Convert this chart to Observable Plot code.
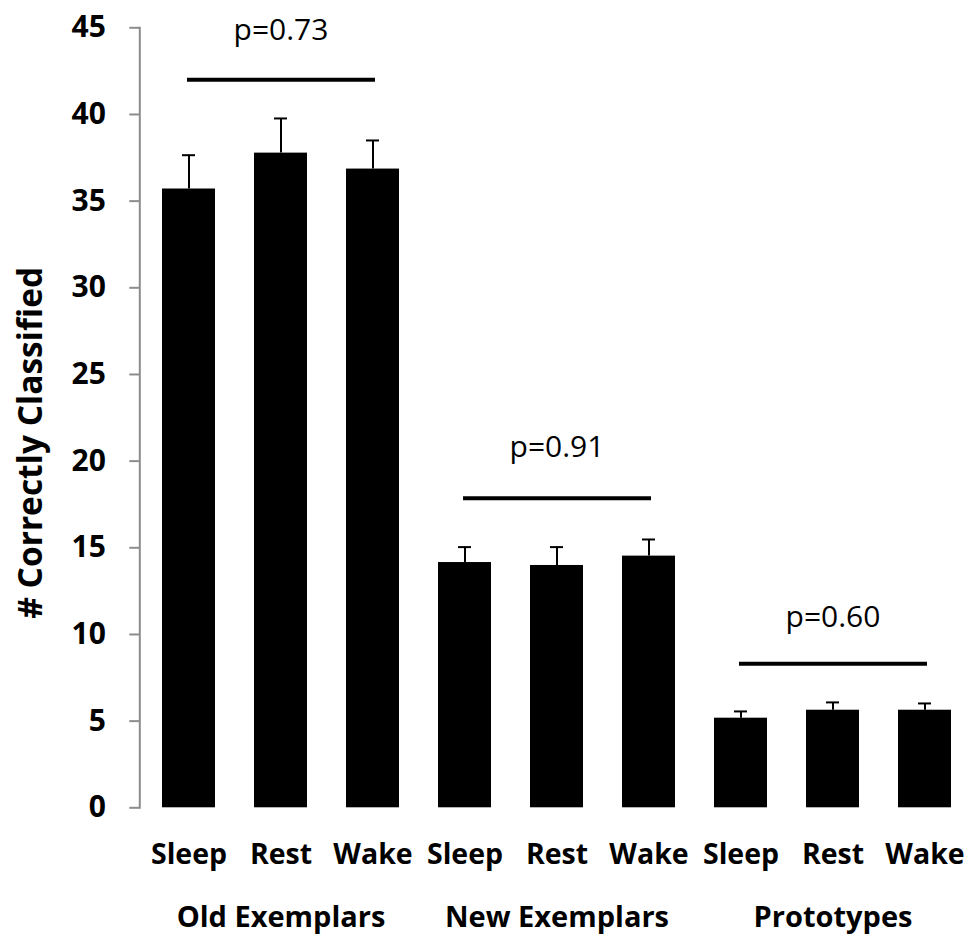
<!DOCTYPE html>
<html>
<head>
<meta charset="utf-8">
<script src="https://cdn.jsdelivr.net/npm/d3@7"></script>
<script src="https://cdn.jsdelivr.net/npm/@observablehq/plot@0.6"></script>
<style>
  html, body { margin: 0; padding: 0; background: #fff; }
  #chart svg { display: block; }
</style>
</head>
<body>
<div id="chart"></div>
<script>
const groups = ["Old Exemplars", "New Exemplars", "Prototypes"];
const conditions = ["Sleep", "Rest", "Wake"];
const means = [35.7, 37.77, 36.85, 14.15, 13.98, 14.52, 5.17, 5.63, 5.63];
const errors = [1.95, 2.0, 1.65, 0.89, 1.06, 0.96, 0.39, 0.45, 0.39];
const pLabels = ["p=0.73", "p=0.91", "p=0.60"];
const sigLineY = [42.0, 17.86, 8.31];
const pLabelY = [44.85, 20.8, 11.0];
const yTicks = [0, 5, 10, 15, 20, 25, 30, 35, 40, 45];
const yTitle = "# Correctly Classified";

const rows = [];
groups.forEach((g, gi) => conditions.forEach((c, ci) => {
  const i = gi * 3 + ci;
  rows.push({key: g + "|" + c, group: g, condition: c, mean: means[i], top: means[i] + errors[i]});
}));
const keys = rows.map(d => d.key);
const sig = groups.map((g, gi) => ({
  x1: g + "|" + conditions[0], x2: g + "|" + conditions[2], mid: g + "|" + conditions[1],
  y: sigLineY[gi], ly: pLabelY[gi], label: pLabels[gi], group: g
}));

const font = "'Open Sans', 'DejaVu Sans', sans-serif";

const chart = Plot.plot({
  width: 970,
  height: 937,
  marginLeft: 139.3,
  marginRight: 0,
  marginTop: 27.3,
  marginBottom: 129.7,
  style: {fontFamily: font, background: "white", overflow: "visible"},
  x: {domain: keys, range: [139.3, 973.6], paddingInner: 0.424, paddingOuter: 0.212, axis: null},
  y: {domain: [0, 45], axis: null},
  marks: [
    Plot.frame({anchor: "left", stroke: "#8c8c8c", strokeWidth: 2}),
    Plot.axisY({ticks: yTicks, tickSize: 10, tickPadding: 24, stroke: "#8c8c8c", strokeWidth: 2, fill: "black",
      fontSize: 30, fontWeight: "bold", label: null}),
    Plot.barY(rows, {x: "key", y: "mean", fill: "black"}),
    Plot.ruleX(rows, {x: "key", y1: "mean", y2: "top", stroke: "black", strokeWidth: 2}),
    Plot.tickY(rows, {x: "key", y: "top", stroke: "black", strokeWidth: 2, insetLeft: 20, insetRight: 20}),
    Plot.link(sig, {x1: "x1", x2: "x2", y1: "y", y2: "y", stroke: "black", strokeWidth: 4, strokeLinecap: "square"}),
    Plot.text(sig, {x: "mid", y: "ly", text: "label", fontSize: 30, fill: "black", lineAnchor: "middle"}),
    Plot.text(rows, {x: "key", text: "condition", frameAnchor: "bottom", dy: 56, lineAnchor: "bottom",
      fontSize: 28.5, fontWeight: "bold", fill: "black"}),
    Plot.text(sig, {x: "mid", text: "group", frameAnchor: "bottom", dy: 119.4, lineAnchor: "bottom",
      fontSize: 29, fontWeight: "bold", fill: "black"}),
    Plot.text([yTitle], {frameAnchor: "left", dx: -109, dy: 25, rotate: -90, text: d => d,
      fontSize: 33.5, fontWeight: "bold", fill: "black", lineAnchor: "middle", textAnchor: "middle"})
  ]
});
document.getElementById("chart").appendChild(chart);
</script>
</body>
</html>
